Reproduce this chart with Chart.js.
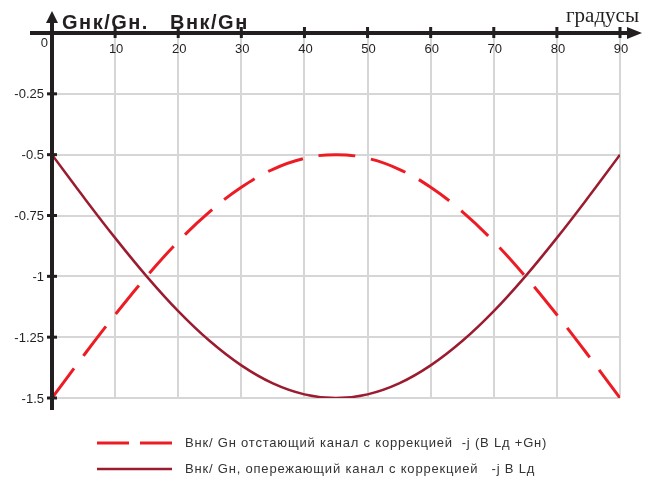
<!DOCTYPE html>
<html lang="ru">
<head>
    <meta charset="UTF-8">
    <title>Gнк/Gн, Bнк/Gн</title>
    <script src="https://cdn.jsdelivr.net/npm/chart.js"></script>
    <style>
        body { margin: 0; background: #fff; }
    </style>
</head>
<body>
    <canvas id="chart" width="651" height="477"></canvas>

    <script>
        // Data (angle in degrees)
        const angles  = [0, 5, 10, 15, 20, 25, 30, 35, 40, 45, 50, 55, 60, 65, 70, 75, 80, 85, 90];
        const lagging = [-1.5, -1.326, -1.158, -1.0, -0.857, -0.734, -0.634, -0.56, -0.515, -0.5,
                         -0.515, -0.56, -0.634, -0.734, -0.857, -1.0, -1.158, -1.326, -1.5];
        const leading = [-0.5, -0.674, -0.842, -1.0, -1.143, -1.266, -1.366, -1.44, -1.485, -1.5,
                         -1.485, -1.44, -1.366, -1.266, -1.143, -1.0, -0.842, -0.674, -0.5];
        const xTicks = [0, 10, 20, 30, 40, 50, 60, 70, 80, 90];
        const yTicks = [-0.25, -0.5, -0.75, -1, -1.25, -1.5];
        const seriesLabels = [
            'Внк/ Gн отстающий канал с коррекцией  -j (B Lд +Gн)',
            'Внк/ Gн, опережающий канал с коррекцией   -j B Lд'
        ];

        const AXIS = '#231f20';
        const FONT = '"Liberation Sans", Arial, sans-serif';

        // stretch the gaps so the dashed curve starts and ends with a full dash (15 dashes)
        function fitDash(context) {
            const { x, y } = context.chart.scales;
            if (!x || !y) return [37, 15];
            let len = 0;
            for (let i = 1; i < angles.length; i++) {
                len += Math.hypot(x.getPixelForValue(angles[i]) - x.getPixelForValue(angles[i - 1]),
                                  y.getPixelForValue(lagging[i]) - y.getPixelForValue(lagging[i - 1]));
            }
            len *= 1.003;
            const dash = 37;
            return [dash, (len - 15 * dash) / 14];
        }

        // draws the black axes with arrows, tick marks, tick labels, titles and legend
        const axesPlugin = {
            id: 'axes',
            afterDatasetsDraw(chart) {
                const { ctx, chartArea: a, scales: { x, y } } = chart;
                const x0 = x.getPixelForValue(0);
                const y0 = y.getPixelForValue(0);
                ctx.save();
                ctx.fillStyle = AXIS;

                // horizontal axis + arrow
                ctx.fillRect(a.left - 22, y0 - 2, a.right - a.left + 30, 4);
                ctx.beginPath();
                ctx.moveTo(a.right + 22, y0);
                ctx.lineTo(a.right + 7, y0 - 6);
                ctx.lineTo(a.right + 7, y0 + 6);
                ctx.closePath();
                ctx.fill();

                // vertical axis + arrow
                ctx.fillRect(x0 - 2, a.top - 12, 4, a.bottom - a.top + 24);
                ctx.beginPath();
                ctx.moveTo(x0, a.top - 22);
                ctx.lineTo(x0 - 6, a.top - 10);
                ctx.lineTo(x0 + 6, a.top - 10);
                ctx.closePath();
                ctx.fill();

                ctx.font = '13px ' + FONT;
                ctx.textBaseline = 'middle';

                // x ticks and labels
                xTicks.forEach(v => {
                    const px = x.getPixelForValue(v);
                    if (v === 0) {
                        ctx.textAlign = 'right';
                        ctx.fillText('0', px - 4, y0 + 10);
                        return;
                    }
                    ctx.fillRect(px - 1.5, y0 - 6, 3, 11);
                    ctx.textAlign = 'center';
                    ctx.fillText(String(v), px + 1, y0 + 16);
                });

                // y ticks and labels
                yTicks.forEach(v => {
                    const py = y.getPixelForValue(v);
                    ctx.fillRect(x0 - 5, py - 1.5, 10, 3);
                    ctx.textAlign = 'right';
                    ctx.fillText(String(v), x0 - 8, py + 1);
                });

                // axis titles
                ctx.textAlign = 'left';
                ctx.textBaseline = 'alphabetic';
                ctx.font = 'bold 20px ' + FONT;
                ctx.letterSpacing = '1.5px';
                ctx.fillText('Gнк/Gн.', a.left + 10, a.top - 4);
                ctx.fillText('Bнк/Gн', a.left + 118, a.top - 4);
                ctx.letterSpacing = '0px';
                ctx.font = '21px "Liberation Serif", "Times New Roman", serif';
                ctx.textAlign = 'right';
                ctx.fillText('градусы', a.right + 19, a.top - 11);

                // legend
                ctx.textAlign = 'left';
                ctx.textBaseline = 'middle';
                ctx.font = '13px ' + FONT;
                ctx.letterSpacing = '0.8px';
                chart.data.datasets.forEach((ds, i) => {
                    const ly = a.bottom + 45 + i * 26;
                    ctx.strokeStyle = ds.borderColor;
                    ctx.lineWidth = ds.borderWidth;
                    ctx.setLineDash(i === 0 ? [32, 11] : []);
                    ctx.beginPath();
                    ctx.moveTo(a.left + 45, ly);
                    ctx.lineTo(a.left + 120, ly);
                    ctx.stroke();
                    ctx.fillStyle = '#333';
                    ctx.fillText(ds.label, a.left + 133, ly);
                });
                ctx.restore();
            }
        };

        const ctx = document.getElementById('chart').getContext('2d');
        const myChart = new Chart(ctx, {
            type: 'line',
            data: {
                datasets: [
                    {
                        label: seriesLabels[0],
                        data: angles.map((a, i) => ({ x: a, y: lagging[i] })),
                        borderColor: '#ed1c24',
                        borderWidth: 3,
                        borderDash: fitDash,
                        pointRadius: 0,
                        tension: 0.4
                    },
                    {
                        label: seriesLabels[1],
                        data: angles.map((a, i) => ({ x: a, y: leading[i] })),
                        borderColor: '#9b1b30',
                        borderWidth: 2.5,
                        pointRadius: 0,
                        tension: 0.4
                    }
                ]
            },
            options: {
                responsive: false,
                animation: false,
                layout: { padding: { left: 52, top: 33, right: 31, bottom: 79 } },
                plugins: { legend: { display: false }, tooltip: { enabled: false } },
                scales: {
                    x: {
                        type: 'linear',
                        min: 0, max: 90,
                        ticks: { display: false, stepSize: 10 },
                        grid: { color: '#d6d6d6', lineWidth: 2, drawTicks: false },
                        border: { display: false },
                        afterFit: s => { s.height = 0; }
                    },
                    y: {
                        min: -1.5, max: 0,
                        ticks: { display: false, stepSize: 0.25 },
                        grid: { color: '#d6d6d6', lineWidth: 2, drawTicks: false },
                        border: { display: false },
                        afterFit: s => { s.width = 0; }
                    }
                }
            },
            plugins: [axesPlugin]
        });
    </script>
</body>
</html>
